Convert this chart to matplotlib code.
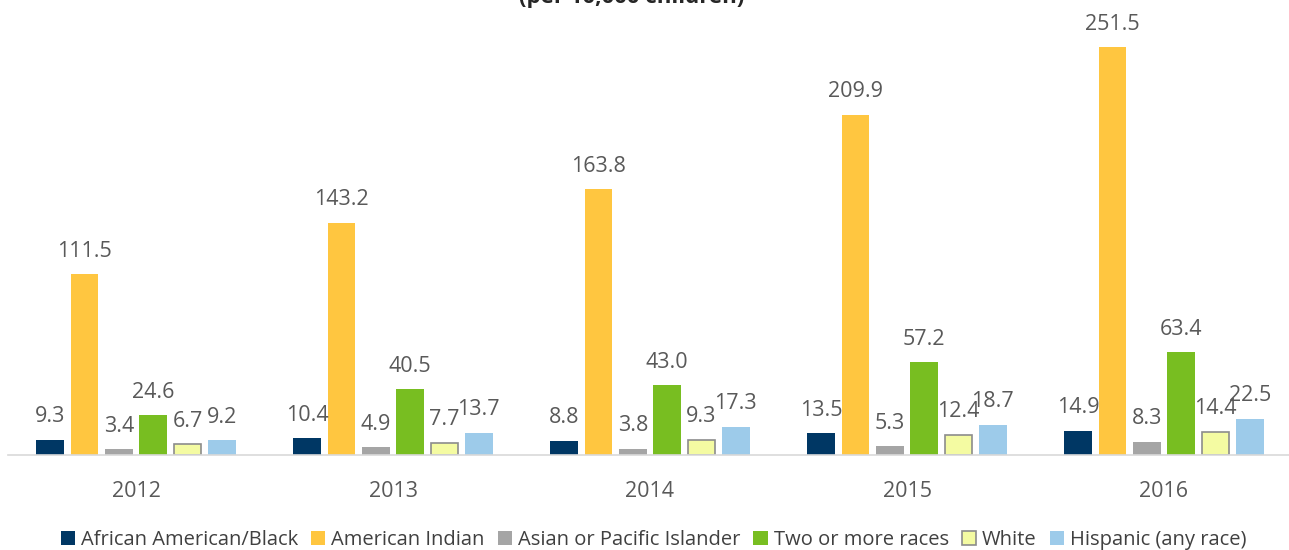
import numpy as np
from matplotlib import pyplot as plt

years = ['2012', '2013', '2014', '2015', '2016']
series = ['African American/Black', 'American Indian', 'Asian or Pacific Islander',
          'Two or more races', 'White', 'Hispanic (any race)']
black = [9.3, 10.4, 8.8, 13.5, 14.9]
amer_indian = [111.5, 143.2, 163.8, 209.9, 251.5]
asian = [3.4, 4.9, 3.8, 5.3, 8.3]
two_more = [24.6, 40.5, 43.0, 57.2, 63.4]
white = [6.7, 7.7, 9.3, 12.4, 14.4]
hispanic = [9.2, 13.7, 17.3, 18.7, 22.5]
values = [black, amer_indian, asian, two_more, white, hispanic]

colors = ['#003764', '#FFC640', '#A5A5A5', '#78BE21', '#F4FBA2', '#9DCBEA']
edges = ['none', 'none', 'none', 'none', '#8C8C8C', 'none']

plt.rcParams['font.family'] = ['Open Sans', 'DejaVu Sans']
fig = plt.figure(figsize=(12.89, 5.5), dpi=100)
ax = fig.add_axes([7.5 / 1289, 1 - 455 / 550, 1285 / 1289, 454 / 550])

x = np.arange(len(years))
pitch = 0.1336
width = 0.107
for i, (name, vals) in enumerate(zip(series, values)):
    pos = x + (i - 2.5) * pitch
    ax.bar(pos, vals, width, color=colors[i], edgecolor=edges[i],
           linewidth=1.2 if edges[i] != 'none' else 0, label=name)
    for p, v in zip(pos, vals):
        ax.annotate(f'{v:.1f}', (p, v), xytext=(0, 9), textcoords='offset points',
                    ha='center', va='bottom', fontsize=15.5, color='#595959')

ax.set_xlim(-0.5, 4.5)
ax.set_ylim(0, 280)
ax.set_xticks(x)
ax.set_xticklabels(years, fontsize=15.5, color='#595959')
ax.tick_params(axis='x', length=0, pad=19)
ax.set_yticks([])
for s in ['top', 'left', 'right']:
    ax.spines[s].set_visible(False)
ax.spines['bottom'].set_color('#D9D9D9')
ax.spines['bottom'].set_linewidth(1.2)

fig.text(0.49, 1 + 2 / 550, '(per 10,000 children)', ha='center', va='center',
         fontsize=16, fontweight='bold', color='#262626')

leg = fig.legend(loc='center', bbox_to_anchor=(0.507, 1 - 540 / 550), ncol=6,
                 frameon=False, fontsize=14.5, handlelength=0.7, handleheight=0.7,
                 handletextpad=0.3, columnspacing=0.65, borderaxespad=0)
for t in leg.get_texts():
    t.set_color('#404040')

plt.savefig('out.png', dpi=100)
